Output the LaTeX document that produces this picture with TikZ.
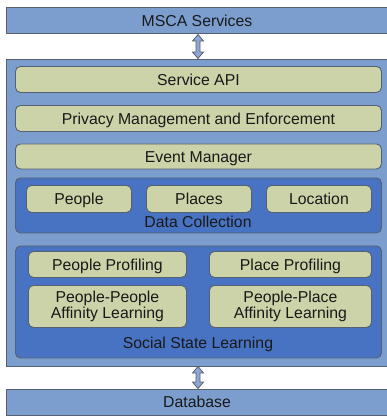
\documentclass[tikz,border=0pt]{standalone}
\usepackage{fontspec}
\setmainfont{Liberation Sans}
\definecolor{outerblue}{HTML}{7C9ECE}
\definecolor{innerblue}{HTML}{4773C2}
\definecolor{khaki}{HTML}{CCD3A9}
\definecolor{edgegray}{HTML}{56606E}
\definecolor{arrowfill}{HTML}{8EA8D2}
\tikzset{
  outerbox/.style={draw=edgegray, line width=0.9pt, fill=outerblue, inner sep=0pt},
  innerbox/.style={draw=edgegray, line width=0.9pt, fill=innerblue, rounded corners=5pt, inner sep=0pt},
  gboxbase/.style={draw=edgegray, line width=0.9pt, fill=khaki, rounded corners=5pt, inner sep=0pt, align=center, text=black!90},
  gbox/.style={gboxbase, text height=14.3pt, text depth=3pt},
  lbl/.style={inner sep=0pt, text=black!90, anchor=base},
  dblarrow/.style={draw=edgegray, line width=0.8pt, fill=arrowfill}
}
\begin{document}
\begin{tikzpicture}[x=1pt,y=-1pt,font=\fontsize{15.8}{16.5}\selectfont]
\useasboundingbox (0,0) rectangle (386,418);
% outer boxes
\node[outerbox, minimum width=382pt, minimum height=26pt, anchor=north west] (msca) at (6,7) {};
\node[lbl] (mscat) at (197,26.5) {MSCA Services};
\node[outerbox, minimum width=382pt, minimum height=307pt, anchor=north west] (core) at (6,59) {};
\node[outerbox, minimum width=382pt, minimum height=26pt, anchor=north west] (db) at (6,389) {};
\node[lbl] (dbt) at (197,407) {Database};
% arrows
\draw[dblarrow] (198,34.5) -- (203.5,41) -- (200,41) -- (200,52) -- (203.5,52) -- (198,58.5) -- (192.5,52) -- (196,52) -- (196,41) -- (192.5,41) -- cycle;
\draw[dblarrow] (198,366.5) -- (203.5,373) -- (200,373) -- (200,382) -- (203.5,382) -- (198,388.5) -- (192.5,382) -- (196,382) -- (196,373) -- (192.5,373) -- cycle;
% layers
\node[gbox, minimum width=366pt, minimum height=26pt, anchor=north west] (api) at (15,66) {Service API};
\node[gbox, minimum width=366pt, minimum height=26pt, anchor=north west] (priv) at (15,105) {Privacy Management and Enforcement};
\node[gbox, minimum width=366pt, minimum height=25pt, anchor=north west] (evt) at (15,143.5) {Event Manager};
% data collection
\node[innerbox, minimum width=366pt, minimum height=55pt, anchor=north west] (dc) at (15,177.5) {};
\node[gbox, minimum width=105pt, minimum height=27pt, anchor=north west] (people) at (26,185) {People};
\node[gbox, minimum width=105pt, minimum height=27pt, anchor=north west] (places) at (146,185) {Places};
\node[gbox, minimum width=105pt, minimum height=27pt, anchor=north west] (loc) at (266,185) {Location};
\node[lbl] (dct) at (198,227) {Data Collection};
% social state learning
\node[innerbox, minimum width=366pt, minimum height=112pt, anchor=north west] (ssl) at (15,245.5) {};
\node[gbox, minimum width=158pt, minimum height=26pt, anchor=north west] (pprof) at (28,251) {People Profiling};
\node[gbox, minimum width=162pt, minimum height=26pt, anchor=north west] (plprof) at (209,251) {Place Profiling};
\node[gboxbase, minimum width=158pt, minimum height=42pt, anchor=north west] (ppaff) at (28,285) {People-People\\Affinity Learning};
\node[gboxbase, minimum width=162pt, minimum height=42pt, anchor=north west] (plaff) at (209,285) {People-Place\\Affinity Learning};
\node[lbl] (sslt) at (198,348.5) {Social State Learning};
\end{tikzpicture}
\end{document}
